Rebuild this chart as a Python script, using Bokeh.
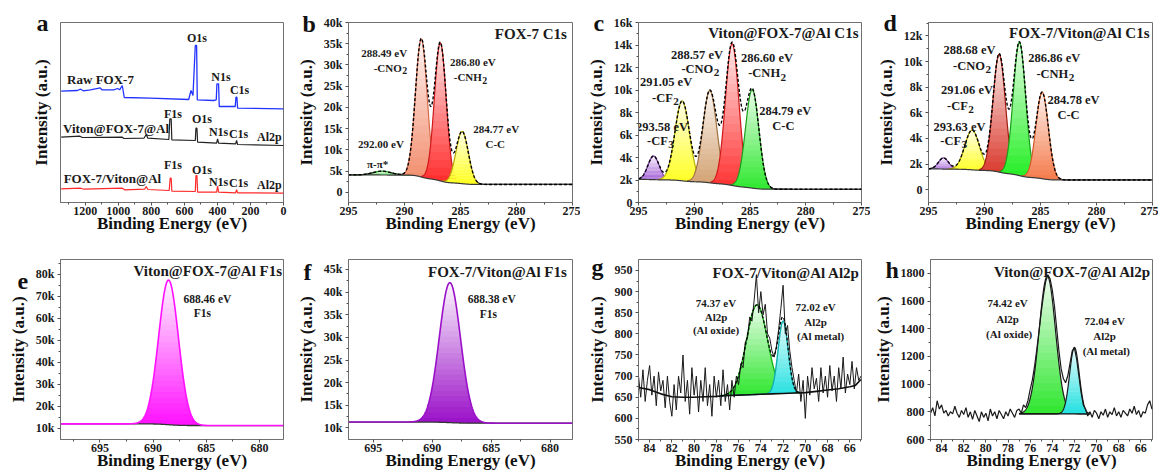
import numpy as np
from bokeh.plotting import figure
from bokeh.layouts import row, column
from bokeh.models import Range1d, FixedTicker, Title
from bokeh.core.properties import value
from bokeh.embed import file_html
from bokeh.resources import INLINE

FONT = "Liberation Serif"

# ---------------- panel a : survey spectra (arbitrary stacked intensity) ----------------
A_RAW_X = [1346, 1248, 1228, 1212, 1169, 1109, 1099, 1028, 1004, 992, 976, 964, 806, 574, 560, 548,
           534, 526, 522, 423, 407, 403, 393, 389, 292, 288, 282, 278, 0]
A_RAW_Y = [111.3, 112, 113.3, 111.7, 112.7, 114.7, 112.7, 112.7, 114, 112.7, 117, 105, 104.3, 103, 112,
           107, 157, 157, 102.7, 102, 102.7, 118.7, 118.7, 96, 96, 105.3, 105.3, 94.3, 93.7]
A_VFA_X = [1346, 1232, 1218, 976, 966, 845, 831, 821, 694, 688, 680, 676, 534, 530, 524, 520, 405, 399,
           393, 290, 284, 278, 0]
A_VFA_Y = [65.3, 66.3, 65, 65.3, 64, 64.3, 68, 64.3, 63, 83.7, 83.7, 62.7, 62, 74.3, 74.3, 60.3, 59.3,
           63.7, 59.3, 58.7, 62, 58, 57]
A_FVA_X = [1346, 1228, 1208, 976, 962, 841, 831, 821, 692, 686, 680, 676, 534, 530, 524, 520, 405, 399,
           393, 290, 284, 278, 0]
A_FVA_Y = [13.7, 14.3, 13.3, 14.3, 12.7, 13.3, 16, 13, 12, 24.3, 24.3, 11.3, 11, 27, 27, 10.3, 10.3,
           16.3, 10.3, 9.7, 12.7, 9.7, 9.3]
A_NAME_TEXT = ["Raw FOX-7", "Viton@FOX-7@Al", "FOX-7/Viton@Al"]
A_NAME_X = [1310, 1335, 1331]
A_NAME_Y = [122.7, 74.3, 24.3]
A_PEAK_TEXT = ["O1s", "N1s", "C1s", "F1s", "O1s", "N1s", "C1s", "Al2p", "F1s", "O1s", "N1s", "C1s", "Al2p"]
A_PEAK_X = [524, 379, 266, 669, 494, 393, 272, 85, 669, 494, 393, 272, 85]
A_PEAK_Y = [164.3, 125.3, 112.7, 88.7, 83.7, 71, 68.7, 66, 37.7, 32.7, 21, 19.3, 18]
A_XTICKS = [1200, 1000, 800, 600, 400, 200, 0]
A_XLABELS = ["1200", "1000", "800", "600", "400", "200", "0"]
A_XMINOR = [1300, 1100, 900, 700, 500, 300, 100]

# ---------------- panel b : FOX-7 C1s ----------------
B_CENTERS = [292.00, 288.50, 286.80, 284.85]
B_HEIGHTS = [900, 32500, 32500, 12300]
B_SIGMAS = [0.80, 0.52, 0.52, 0.55]
B_BG = [4100, 1850]
B_NOTES = ["292.00 eV", "π-π*", "288.49 eV", "-CNO₂", "286.80 eV", "-CNH₂", "284.77 eV", "C-C"]
B_NOTE_X = [292.1, 292.4, 291.81, 291.28, 283.9, 284.13, 281.81, 281.9]
B_NOTE_Y = [11400, 6700, 32900, 29400, 30700, 27060, 14900, 11400]
B_YTICKS = [0, 5000, 10000, 15000, 20000, 25000, 30000, 35000, 40000]
B_YLABELS = ["0", "5k", "10k", "15k", "20k", "25k", "30k", "35k", "40k"]

# ---------------- panel c : Viton@FOX-7@Al C1s ----------------
C_CENTERS = [293.65, 291.08, 288.60, 286.60, 284.80]
C_HEIGHTS = [2100, 7100, 8200, 12600, 8750]
C_SIGMAS = [0.50, 0.65, 0.62, 0.60, 0.60]
C_BG = [2050, 1180]
C_NOTES = ["293.58 eV", "-CF₃", "291.05 eV", "-CF₂", "288.57 eV", "-CNO₂", "286.60 eV", "-CNH₂",
           "284.79 eV", "C-C"]
C_NOTE_X = [292.9, 293.05, 292.52, 292.6, 289.76, 289.47, 283.48, 283.48, 281.84, 282.0]
C_NOTE_Y = [6730, 5480, 10670, 9270, 13130, 11850, 12830, 11470, 8150, 6760]
C_YTICKS = [0, 2000, 4000, 6000, 8000, 10000, 12000, 14000, 16000]
C_YLABELS = ["0", "2k", "4k", "6k", "8k", "10k", "12k", "14k", "16k"]

# ---------------- panel d : FOX-7/Viton@Al C1s ----------------
D_CENTERS = [293.66, 291.10, 288.69, 286.88, 284.85]
D_HEIGHTS = [870, 3100, 9200, 10400, 6750]
D_SIGMAS = [0.45, 0.65, 0.55, 0.55, 0.55]
D_BG = [1620, 760]
D_NOTES = ["293.63 eV", "-CF₃", "291.06 eV", "-CF₂", "288.68 eV", "-CNO₂", "286.86 eV", "-CNH₂",
           "284.78 eV", "C-C"]
D_NOTE_X = [292.23, 292.77, 291.57, 292.17, 291.34, 291.13, 283.78, 283.69, 282.05, 282.5]
D_NOTE_Y = [4910, 3820, 7770, 6550, 10880, 9660, 10260, 9060, 6990, 5820]
D_YTICKS = [0, 2000, 4000, 6000, 8000, 10000, 12000]
D_YLABELS = ["0", "2k", "4k", "6k", "8k", "10k", "12k"]

C1S_XTICKS = [295, 290, 285, 280, 275]
C1S_XMINOR = [292.5, 287.5, 282.5, 277.5]

# ---------------- panel e / f : F1s ----------------
E_CENTER, E_HEIGHT, E_SIGMA = 688.55, 65700, 0.93
E_BG = [12100, 11350]
E_NOTES = ["688.46 eV", "F1s"]
E_NOTE_X = [684.9, 685.37]
E_NOTE_Y = [68950, 62400]
E_YTICKS = [10000, 20000, 30000, 40000, 50000, 60000, 70000, 80000]
E_YLABELS = ["10k", "20k", "30k", "40k", "50k", "60k", "70k", "80k"]

F_CENTER, F_HEIGHT, F_SIGMA = 688.50, 30900, 0.90
F_BG = [11300, 11050]
F_NOTES = ["688.38 eV", "F1s"]
F_NOTE_X = [684.95, 685.24]
F_NOTE_Y = [38400, 35250]
F_YTICKS = [10000, 15000, 20000, 25000, 30000, 35000, 40000, 45000]
F_YLABELS = ["10k", "15k", "20k", "25k", "30k", "35k", "40k", "45k"]

F1S_XTICKS = [695, 690, 685, 680]
F1S_XMINOR = [697.5, 692.5, 687.5, 682.5]

# ---------------- panel g : FOX-7/Viton@Al Al2p ----------------
G_X_START, G_X_END = 85.0, 65.0
G_RAW = [700, 650, 715, 640, 690, 725, 655, 700, 630, 710, 665, 690, 625, 700, 640, 605, 680, 620, 700,
         660, 750, 640, 690, 610, 720, 655, 700, 615, 690, 640, 720, 630, 680, 605, 700, 650, 690, 630,
         715, 640, 680, 620, 690, 650, 700, 680, 730, 720, 780, 790, 840, 830, 880, 940, 850, 900, 845,
         870, 800, 790, 760, 745, 770, 810, 860, 915, 800, 820, 760, 720, 690, 660, 705, 640, 690, 600,
         700, 655, 720, 670, 695, 640, 720, 660, 700, 650, 725, 665, 700, 640, 720, 670, 745, 660, 705,
         680, 735, 670, 720, 690, 700]
G_BG_X = [85, 84, 83, 82, 81, 80, 79, 78, 77, 76, 75, 74, 73, 72, 71, 70, 69, 68, 67, 66, 65.5, 65]
G_BG_Y = [673, 668, 658, 651, 650, 650, 651, 652, 654, 655, 656, 657, 658, 659, 660, 661, 664, 667, 670,
          675, 678, 692]
G_CENTERS = [74.35, 72.00]
G_HEIGHTS = [212, 171]
G_SIGMAS = [0.95, 0.45]
G_NOTES = ["74.37 eV", "Al2p", "(Al oxide)", "72.02 eV", "Al2p", "(Al metal)"]
G_NOTE_X = [78.03, 78.03, 78.03, 69.08, 69.08, 68.63]
G_NOTE_Y = [874, 839, 808, 864, 829, 794]
G_YTICKS = [550, 600, 650, 700, 750, 800, 850, 900, 950]
G_YLABELS = ["550", "600", "650", "700", "750", "800", "850", "900", "950"]

# ---------------- panel h : Viton@FOX-7@Al Al2p ----------------
H_RAW = [790, 830, 770, 880, 820, 850, 790, 810, 770, 800, 785, 840, 790, 760, 810, 780, 830, 760, 800,
         745, 810, 770, 730, 800, 760, 790, 735, 820, 770, 800, 750, 810, 780, 750, 800, 770, 820, 790,
         760, 810, 820, 790, 850, 830, 880, 960, 1030, 1130, 1250, 1380, 1520, 1640, 1740, 1790, 1760,
         1680, 1560, 1400, 1240, 1110, 1040, 1010, 1060, 1150, 1240, 1260, 1180, 1060, 940, 850, 820,
         770, 800, 760, 810, 790, 750, 800, 775, 820, 760, 800, 780, 830, 770, 800, 760, 810, 790, 770,
         820, 790, 840, 780, 810, 760, 800, 790, 850, 880, 820]
H_BG = 785
H_CENTERS = [74.45, 72.00]
H_HEIGHTS = [995, 480]
H_SIGMAS = [0.74, 0.43]
H_NOTES = ["74.42 eV", "Al2p", "(Al oxide)", "72.04 eV", "Al2p", "(Al metal)"]
H_NOTE_X = [78.04, 78.04, 77.9, 69.27, 69.27, 69.12]
H_NOTE_Y = [1584, 1469, 1361, 1459, 1344, 1236]
H_YTICKS = [600, 800, 1000, 1200, 1400, 1600, 1800]
H_YLABELS = ["600", "800", "1000", "1200", "1400", "1600", "1800"]

AL_XTICKS = [84, 82, 80, 78, 76, 74, 72, 70, 68, 66]
AL_XMINOR = [85, 83, 81, 79, 77, 75, 73, 71, 69, 67, 65]

TITLES = ["FOX-7 C1s", "Viton@FOX-7@Al C1s", "FOX-7/Viton@Al C1s", "Viton@FOX-7@Al F1s",
          "FOX-7/Viton@Al F1s", "FOX-7/Viton@Al Al2p", "Viton@FOX-7@Al Al2p"]
TITLE_X = [275.5, 275.27, 275.27, 677.88, 678.58, 65.11, 65.1]
TITLE_Y = [37250, 15050, 12200, 81360, 44400, 944, 1812]
LETTERS = ["a", "b", "c", "d", "e", "f", "g", "h"]

# approximate advance widths (em) of the bold serif face, used to place subscripts
CHAR_W = {"-": 0.333, "C": 0.722, "N": 0.722, "O": 0.778, "H": 0.778, "F": 0.611}
SUBS = {"₂": "2", "₃": "3"}


# ---------------- helpers ----------------
def mix(c, t):
    r, g, b = int(c[1:3], 16), int(c[3:5], 16), int(c[5:7], 16)
    return "#%02x%02x%02x" % (round(r + (255 - r) * t), round(g + (255 - g) * t), round(b + (255 - b) * t))


def gauss(x, c, h, s):
    return h * np.exp(-0.5 * ((x - c) / s) ** 2)


def shirley(x, peaks, hi, lo):
    order = np.argsort(x)
    cum = np.cumsum(peaks[order])
    cum = cum / cum[-1]
    frac = np.empty_like(cum)
    frac[order] = cum
    return lo + (hi - lo) * frac


def grad_fill(p, x, base, top, color, nb=18, tmax=0.9):
    lo, hi = base.min(), top.max()
    dh = (hi - lo) / nb
    for k in range(nb):
        a = lo + k * dh
        b = a + dh * 1.15
        y1 = np.maximum(base, a)
        y2 = np.maximum(np.minimum(top, b), y1)
        if not (y2 > y1).any():
            continue
        p.varea(x=x, y1=y1, y2=y2, fill_color=mix(color, tmax * (k + 0.5) / nb))


def make_fig(w, xr, yr, bl, br, bt, letter, loff, lstand):
    p = figure(width=w, height=237, x_range=Range1d(*xr), y_range=Range1d(*yr),
               output_backend="svg", toolbar_location=None,
               min_border_left=bl, min_border_right=br, min_border_top=bt, min_border_bottom=35)
    p.title = Title(text=letter, align="left", vertical_align="bottom", offset=loff, standoff=lstand,
                    text_font=FONT, text_font_style="bold", text_font_size="24px", text_color="#111111")
    p.grid.visible = False
    p.outline_line_color = "#707070"
    p.background_fill_color = "white"
    p.border_fill_color = "white"
    for ax in (p.xaxis[0], p.yaxis[0]):
        ax.axis_line_color = "#707070"
        ax.major_tick_line_color = "#505050"
        ax.minor_tick_line_color = "#505050"
        ax.major_tick_in = 0
        ax.major_tick_out = 3
        ax.minor_tick_in = 0
        ax.minor_tick_out = 2
        ax.major_label_text_font = FONT
        ax.major_label_text_font_style = "bold"
        ax.major_label_text_font_size = "12px"
        ax.major_label_text_color = "#1a1a1a"
        ax.axis_label_text_font = FONT
        ax.axis_label_text_font_style = "bold"
        ax.axis_label_text_font_size = "17px"
        ax.axis_label_text_color = "#111111"
    p.xaxis.axis_label = "Binding Energy (eV)"
    p.yaxis.axis_label = "Intensity (a.u.)"
    p.xaxis.major_label_standoff = 1
    p.xaxis.axis_label_standoff = -4
    p.yaxis.major_label_standoff = 3
    p.yaxis.axis_label_standoff = 5
    return p


def set_ticks(axis, ticks, labels, minor):
    axis.ticker = FixedTicker(ticks=ticks, minor_ticks=minor)
    axis.major_label_overrides = {t: l for t, l in zip(ticks, labels)}


def add_text(p, xs, ys, texts, size, align="center", color="#1a1a1a"):
    p.text(x=xs, y=ys, text=texts, text_font=value(FONT), text_font_style="bold",
           text_font_size="%.1fpx" % size, text_align=align, text_baseline="middle", text_color=color)


def add_notes(p, xs, ys, texts, size):
    px, py, pt = [], [], []
    for x, y, t in zip(xs, ys, texts):
        if t[-1] in SUBS:
            base, sub = t[:-1], SUBS[t[-1]]
            wb = sum(CHAR_W.get(ch, 0.5) for ch in base) * size
            ws = 0.5 * size * 0.9
            off = (wb - ws) / 2
            p.text(x=[x], y=[y], text=[base], text_font=value(FONT), text_font_style="bold",
                   text_font_size="%.1fpx" % size, text_align="right", text_baseline="middle",
                   text_color="#1a1a1a", x_offset=off)
            p.text(x=[x], y=[y], text=[sub], text_font=value(FONT), text_font_style="bold",
                   text_font_size="%.1fpx" % (size * 0.9), text_align="left", text_baseline="middle",
                   text_color="#1a1a1a", x_offset=off + 0.5, y_offset=size * 0.3)
        else:
            px.append(x)
            py.append(y)
            pt.append(t)
    add_text(p, px, py, pt, size)


def c1s_panel(p, centers, heights, sigmas, bg, colors, edges):
    x = np.linspace(295, 275, 1201)
    comps = [gauss(x, c, h, s) for c, h, s in zip(centers, heights, sigmas)]
    total = np.sum(comps, axis=0)
    base = shirley(x, total, bg[0], bg[1])
    for comp, col, ed in zip(comps, colors, edges):
        m = comp > comp.max() * 0.004
        grad_fill(p, x[m], base[m], base[m] + comp[m], col)
        p.line(x[m], base[m] + comp[m], line_color=ed, line_width=1.2)
    p.line(x, base, line_color="#3a3a3a", line_width=1.2)
    flat = np.where(total < total.max() * 0.02, base + total, np.nan)
    p.line(x, flat, line_color="#3a3a3a", line_width=1.2)
    p.line(x, base + total, line_color="#000000", line_width=1.4, line_dash="3 2")


def f1s_panel(p, xr, center, height, sigma, bg, color):
    x = np.linspace(xr[0], xr[1], 1001)
    comp = gauss(x, center, height, sigma)
    base = shirley(x, comp, bg[0], bg[1])
    m = comp > height * 0.003
    grad_fill(p, x[m], base[m], base[m] + comp[m], color, nb=26, tmax=0.97)
    p.line(x, base, line_color="#333333", line_width=1.3)
    p.line(x, base + comp, line_color=color, line_width=1.6)


# ---------------- panel a ----------------
pa = make_fig(290, (1350, 0), (0, 180), 60, 7, 22, LETTERS[0], -24, -27)
set_ticks(pa.xaxis[0], A_XTICKS, A_XLABELS, A_XMINOR)
pa.yaxis.ticker = FixedTicker(ticks=[])
pa.yaxis.major_tick_out = 0
pa.yaxis.axis_label_standoff = 10
pa.line(A_RAW_X, A_RAW_Y, line_color="#2233ff", line_width=1.3)
pa.line(A_VFA_X, A_VFA_Y, line_color="#222222", line_width=1.2)
pa.line(A_FVA_X, A_FVA_Y, line_color="#ff2a2a", line_width=1.2)
add_text(pa, A_NAME_X, A_NAME_Y, A_NAME_TEXT, 13, align="left")
add_text(pa, A_PEAK_X, A_PEAK_Y, A_PEAK_TEXT, 12)

# ---------------- panel b ----------------
pb = make_fig(290, (295, 275), (-2400, 40000), 58, 8, 22, LETTERS[1], -46, -28)
set_ticks(pb.xaxis[0], C1S_XTICKS, [str(t) for t in C1S_XTICKS], C1S_XMINOR)
set_ticks(pb.yaxis[0], B_YTICKS, B_YLABELS, [t + 2500 for t in B_YTICKS[:-1]])
c1s_panel(pb, B_CENTERS, B_HEIGHTS, B_SIGMAS, B_BG,
          ["#2fd02f", "#f28c6c", "#ff2a2a", "#ffff1a"], ["#1e9e1e", "#d86a4a", "#d01818", "#b8a800"])
add_notes(pb, B_NOTE_X, B_NOTE_Y, B_NOTES, 11)
add_text(pb, [TITLE_X[0]], [TITLE_Y[0]], [TITLES[0]], 15, align="right")

# ---------------- panel c ----------------
pc = make_fig(290, (295, 275), (0, 16000), 58, 9, 22, LETTERS[2], -45, -27)
set_ticks(pc.xaxis[0], C1S_XTICKS, [str(t) for t in C1S_XTICKS], C1S_XMINOR)
set_ticks(pc.yaxis[0], C_YTICKS, C_YLABELS, [t + 1000 for t in C_YTICKS[:-1]])
c1s_panel(pc, C_CENTERS, C_HEIGHTS, C_SIGMAS, C_BG,
          ["#a35fd6", "#ffff20", "#d2a070", "#ff3030", "#2ee82e"],
          ["#7a3aa8", "#b8b000", "#a07040", "#d01818", "#1a9e1a"])
add_notes(pc, C_NOTE_X, C_NOTE_Y, C_NOTES, 12.5)
add_text(pc, [TITLE_X[1]], [TITLE_Y[1]], [TITLES[1]], 15, align="right")

# ---------------- panel d ----------------
pd_ = make_fig(288, (295, 275), (-1000, 13050), 58, 6, 22, LETTERS[3], -45, -27)
set_ticks(pd_.xaxis[0], C1S_XTICKS, [str(t) for t in C1S_XTICKS], C1S_XMINOR)
set_ticks(pd_.yaxis[0], D_YTICKS, D_YLABELS, [t + 1000 for t in D_YTICKS])
c1s_panel(pd_, D_CENTERS, D_HEIGHTS, D_SIGMAS, D_BG,
          ["#a35fd6", "#ffff20", "#d8362a", "#22ee22", "#f47a4a"],
          ["#7a3aa8", "#b8b000", "#a01a10", "#1a9e1a", "#d05a2a"])
add_notes(pd_, D_NOTE_X, D_NOTE_Y, D_NOTES, 12.5)
add_text(pd_, [TITLE_X[2]], [TITLE_Y[2]], [TITLES[2]], 15, align="right")

# ---------------- panel e ----------------
pe = make_fig(290, (698.7, 677.75), (5000, 86800), 60, 7, 21, LETTERS[4], -43, -59)
set_ticks(pe.xaxis[0], F1S_XTICKS, [str(t) for t in F1S_XTICKS], F1S_XMINOR)
set_ticks(pe.yaxis[0], E_YTICKS, E_YLABELS, [t + 5000 for t in E_YTICKS])
f1s_panel(pe, (698.7, 677.75), E_CENTER, E_HEIGHT, E_SIGMA, E_BG, "#ff10ff")
add_notes(pe, E_NOTE_X, E_NOTE_Y, E_NOTES, 11.5)
add_text(pe, [TITLE_X[3]], [TITLE_Y[3]], [TITLES[3]], 15, align="right")

# ---------------- panel f ----------------
pf = make_fig(290, (697.1, 678.1), (7450, 47200), 58, 8, 21, LETTERS[5], -45, -51)
set_ticks(pf.xaxis[0], F1S_XTICKS, [str(t) for t in F1S_XTICKS], F1S_XMINOR)
set_ticks(pf.yaxis[0], F_YTICKS, F_YLABELS, [t + 2500 for t in F_YTICKS[:-1]])
f1s_panel(pf, (697.1, 678.1), F_CENTER, F_HEIGHT, F_SIGMA, F_BG, "#9a10c8")
add_notes(pf, F_NOTE_X, F_NOTE_Y, F_NOTES, 11.5)
add_text(pf, [TITLE_X[4]], [TITLE_Y[4]], [TITLES[4]], 15, align="right")

# ---------------- panel g ----------------
pg = make_fig(290, (85, 64.95), (550, 976), 58, 9, 21, LETTERS[6], -47, -41)
set_ticks(pg.xaxis[0], AL_XTICKS, [str(t) for t in AL_XTICKS], AL_XMINOR)
set_ticks(pg.yaxis[0], G_YTICKS, G_YLABELS, [t + 25 for t in G_YTICKS[:-1]])
gx = np.round(np.linspace(G_X_START, G_X_END, len(G_RAW)), 2)
xf = np.linspace(77.6, 70.4, 361)
g_base = np.interp(xf, G_BG_X[::-1], G_BG_Y[::-1])
g_comps = [gauss(xf, c, h, s) for c, h, s in zip(G_CENTERS, G_HEIGHTS, G_SIGMAS)]
for comp, col, ed in zip(g_comps, ["#2ee62e", "#22e0e0"], ["#18b818", "#10b0b0"]):
    grad_fill(pg, xf, g_base, g_base + comp, col, nb=16, tmax=0.9)
    pg.line(xf, g_base + comp, line_color=ed, line_width=1.4)
pg.line(gx, G_RAW, line_color="#1a1a1a", line_width=1.0)
pg.line(G_BG_X, G_BG_Y, line_color="#111111", line_width=1.6)
pg.line(xf, g_base + g_comps[0] + g_comps[1], line_color="#000000", line_width=1.3, line_dash="3 2")
add_notes(pg, G_NOTE_X, G_NOTE_Y, G_NOTES, 11)
add_text(pg, [TITLE_X[5]], [TITLE_Y[5]], [TITLES[5]], 15, align="right")

# ---------------- panel h ----------------
ph = make_fig(288, (85, 64.95), (600, 1900), 58, 6, 22, LETTERS[7], -45, -47)
set_ticks(ph.xaxis[0], AL_XTICKS, [str(t) for t in AL_XTICKS], AL_XMINOR)
set_ticks(ph.yaxis[0], H_YTICKS, H_YLABELS, [t + 100 for t in H_YTICKS[:-1]])
hx = np.round(np.linspace(G_X_START, G_X_END, len(H_RAW)), 2)
xh = np.linspace(77.0, 70.6, 321)
h_base = np.full_like(xh, H_BG)
h_comps = [gauss(xh, c, h, s) for c, h, s in zip(H_CENTERS, H_HEIGHTS, H_SIGMAS)]
for comp, col in zip(h_comps, ["#2ee62e", "#22e0e0"]):
    grad_fill(ph, xh, h_base, h_base + comp, col, nb=18, tmax=0.92)
    ph.line(xh, h_base + comp, line_color="#1a1a1a", line_width=1.2)
ph.line(xh, h_base, line_color="#111111", line_width=1.4)
ph.line(hx, H_RAW, line_color="#1a1a1a", line_width=1.2)
add_notes(ph, H_NOTE_X, H_NOTE_Y, H_NOTES, 11)
add_text(ph, [TITLE_X[6]], [TITLE_Y[6]], [TITLES[6]], 15, align="right")

layout = column(row(pa, pb, pc, pd_), row(pe, pf, pg, ph))
open("out.html", "w").write(file_html(layout, INLINE))
